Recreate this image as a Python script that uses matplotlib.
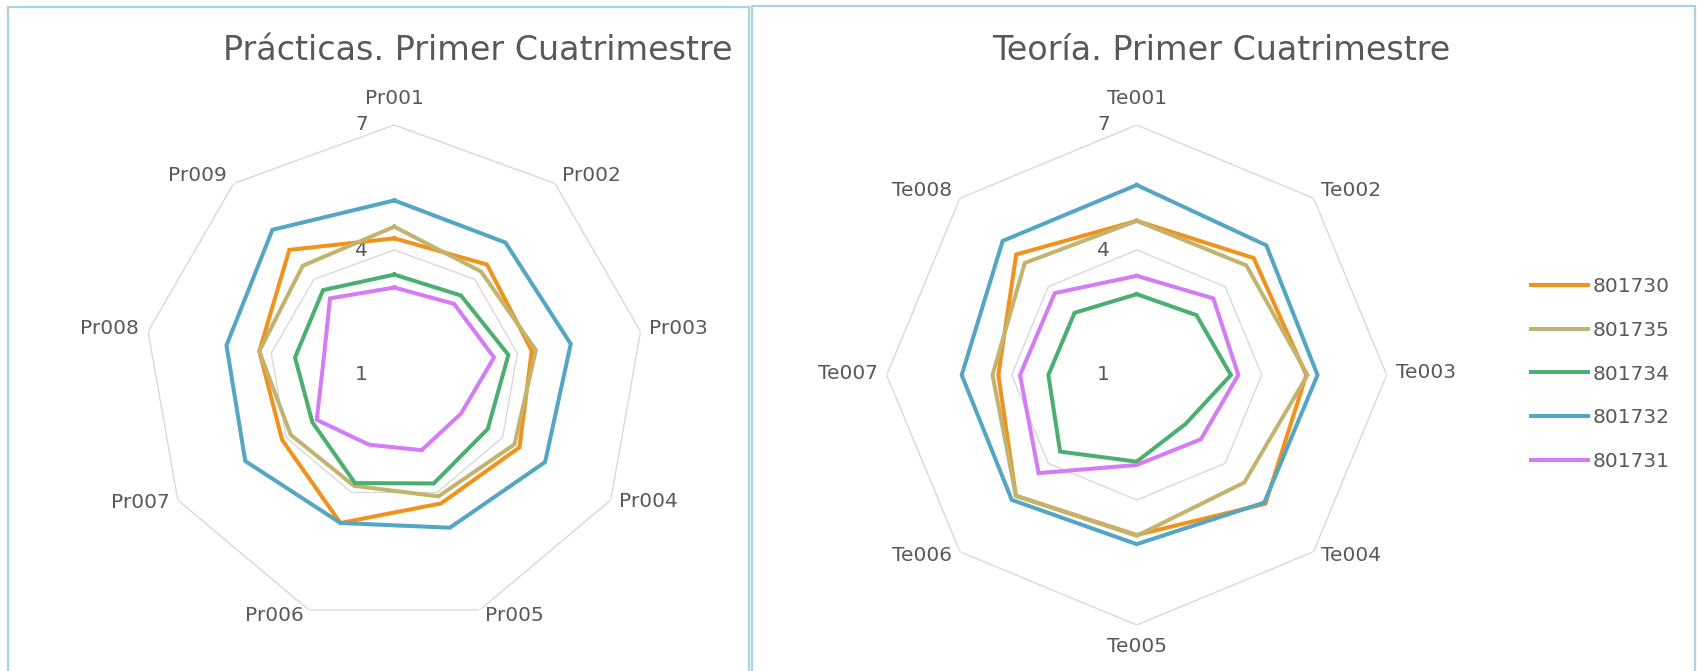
import numpy as np
import matplotlib
matplotlib.use('Agg')
import matplotlib.pyplot as plt
from matplotlib.patches import Rectangle

# data
series = ['801730', '801735', '801734', '801732', '801731']
colors = ['#F0921C', '#C2B46E', '#4CAF72', '#55A6C4', '#D47CF6']

pr_labels = ['Pr001', 'Pr002', 'Pr003', 'Pr004', 'Pr005', 'Pr006', 'Pr007', 'Pr008', 'Pr009']
pr_801730 = [4.28, 4.46, 4.35, 4.47, 4.28, 4.78, 4.11, 4.29, 4.92]
pr_801735 = [4.56, 4.24, 4.45, 4.33, 4.10, 3.83, 3.87, 4.29, 4.42]
pr_801734 = [3.41, 3.49, 3.78, 3.59, 3.77, 3.76, 3.27, 3.42, 3.66]
pr_801732 = [5.19, 5.15, 5.30, 5.18, 4.90, 4.78, 5.13, 5.09, 5.55]
pr_801731 = [3.10, 3.23, 3.43, 2.85, 2.92, 2.78, 3.15, 2.73, 3.40]

te_labels = ['Te001', 'Te002', 'Te003', 'Te004', 'Te005', 'Te006', 'Te007', 'Te008']
te_801730 = [4.70, 4.97, 5.07, 5.37, 4.84, 5.10, 4.32, 5.09]
te_801735 = [4.70, 4.72, 5.10, 4.65, 4.86, 5.10, 4.46, 4.80]
te_801734 = [2.94, 3.03, 3.26, 2.66, 3.08, 3.60, 3.12, 3.11]
te_801732 = [5.56, 5.40, 5.34, 5.33, 5.06, 5.24, 5.20, 5.55]
te_801731 = [3.38, 3.60, 3.44, 3.18, 3.16, 4.33, 3.80, 3.78]

ticks = [1, 4, 7]

W, H = 1701, 671
plt.rcParams['font.family'] = ['DejaVu Sans']
txt = '#595959'
grid = '#D9D9D9'

fig = plt.figure(figsize=(W / 100, H / 100), dpi=100)

# panel borders
fig.patches.append(Rectangle((8 / W, -0.1), 741 / W, 1.1 - 7 / H, transform=fig.transFigure,
                             fill=False, ec='#A8D3E3', lw=1.6))
fig.patches.append(Rectangle((752 / W, -0.1), 943 / W, 1.1 - 6 / H, transform=fig.transFigure,
                             fill=False, ec='#A8D3E3', lw=1.6))


def radar(cx, cy, R, labels, values):
    ax = fig.add_axes([(cx - R) / W, (H - cy - R) / H, 2 * R / W, 2 * R / H], projection='polar')
    ax.set_theta_zero_location('N')
    ax.set_theta_direction(-1)
    ax.set_ylim(1, 7)
    ax.set_axis_off()
    n = len(labels)
    th = np.linspace(0, 2 * np.pi, n, endpoint=False)
    thc = np.append(th, th[0])
    # polygon grid
    for t in ticks[1:]:
        ax.plot(thc, [t] * (n + 1), color=grid, lw=1.0, zorder=1)
    for t in ticks:
        ax.annotate(str(t), (0, t), xytext=(-33, 0), textcoords='offset pixels',
                    ha='center', va='center', fontsize=14.5, color=txt, annotation_clip=False)
    lines = []
    for vals, c, s in zip(values, colors, series):
        v = np.append(vals, vals[0])
        l, = ax.plot(thc, v, color=c, lw=2.9, label=s, zorder=3, solid_joinstyle='miter')
        lines.append(l)
    # category labels
    for a, lab in zip(th, labels):
        s, c = np.sin(a), np.cos(a)
        if abs(s) < 0.1:
            ha = 'center'
            if c > 0:
                off, va = (0, 17), 'bottom'
            else:
                off, va = (0, -12), 'top'
        else:
            ha = 'left' if s > 0 else 'right'
            off = (np.sign(s) * 9 * abs(s) ** 0.5, 2 + 8 * c)
            va = 'center'
        ax.annotate(lab, (a, 7), xytext=off, textcoords='offset pixels', ha=ha, va=va,
                    fontsize=14.5, color=txt, annotation_clip=False)
    return ax, lines


ax1, lines = radar(394.3, 375, 250, pr_labels,
                   [pr_801730, pr_801735, pr_801734, pr_801732, pr_801731])
ax2, lines = radar(1136.7, 375, 250, te_labels,
                   [te_801730, te_801735, te_801734, te_801732, te_801731])

fig.text(478 / W, 1 - 51 / H, 'Prácticas. Primer Cuatrimestre', ha='center', va='center',
         fontsize=24, color=txt)
fig.text(1221 / W, 1 - 51 / H, 'Teoría. Primer Cuatrimestre', ha='center', va='center',
         fontsize=24, color=txt)

fig.legend(lines, series, loc='center left', bbox_to_anchor=(1531 / W, 1 - 374 / H),
           frameon=False, fontsize=14.5, handlelength=2.85, handletextpad=0.2,
           labelspacing=1.22, borderpad=0, borderaxespad=0, labelcolor=txt)

fig.savefig('out.png', dpi=100)
